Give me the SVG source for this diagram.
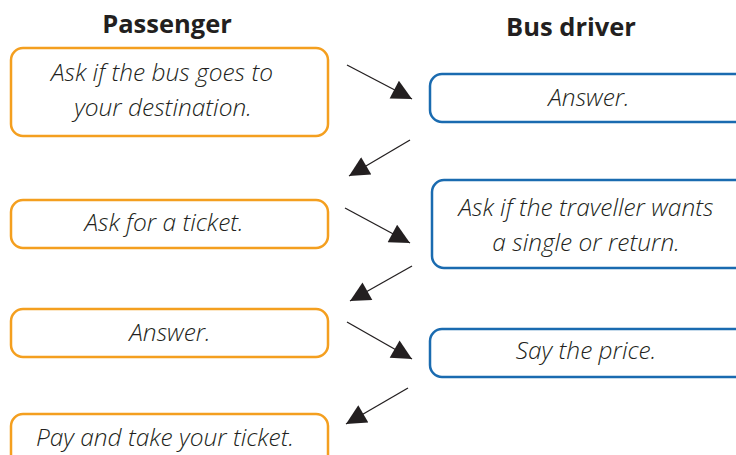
<svg xmlns="http://www.w3.org/2000/svg" width="736" height="455" viewBox="0 0 736 455">
<style>
.p rect{fill:#fff;stroke:#F49F1F;stroke-width:2.5}
.d rect{fill:#fff;stroke:#1A6BB0;stroke-width:2.5}
text{font-family:"Open Sans","Liberation Sans",sans-serif;fill:#231f20}
.t{font-style:italic;font-weight:300;font-size:24.5px;text-anchor:middle}
.h{font-weight:bold;font-size:25.5px;text-anchor:middle}
#conn line{stroke:#231f20;stroke-width:1.3;marker-end:url(#ah)}
</style>
<defs>
<marker id="ah" viewBox="0 0 10 10" refX="10" refY="5" markerWidth="26" markerHeight="20" markerUnits="userSpaceOnUse" orient="auto">
<path d="M0,0L10,5L0,10Z" fill="#231f20"/>
</marker>
</defs>
<rect width="736" height="455" fill="#fff"/>
<text class="h" x="167" y="33">Passenger</text>
<text class="h" x="571" y="36">Bus driver</text>
<g id="p1" class="p"><rect x="11" y="48" width="317" height="88" rx="12"/><text class="t" x="162" y="81">Ask if the bus goes to</text><text class="t" x="163" y="116">your destination.</text></g>
<g id="p2" class="p"><rect x="11" y="200" width="317" height="48" rx="12"/><text class="t" x="164" y="231">Ask for a ticket.</text></g>
<g id="p3" class="p"><rect x="11" y="309" width="317" height="48" rx="12"/><text class="t" x="170" y="341">Answer.</text></g>
<g id="p4" class="p"><rect x="11" y="414" width="317" height="60" rx="12"/><text class="t" x="165" y="446">Pay and take your ticket.</text></g>
<g id="d1" class="d"><rect x="430" y="74" width="330" height="48" rx="12"/><text class="t" x="589" y="106">Answer.</text></g>
<g id="d2" class="d"><rect x="432" y="180" width="328" height="88" rx="12"/><text class="t" x="586" y="216">Ask if the traveller wants</text><text class="t" x="586" y="251">a single or return.</text></g>
<g id="d3" class="d"><rect x="430" y="329" width="330" height="48" rx="12"/><text class="t" x="586" y="359">Say the price.</text></g>
<g id="conn">
<line x1="347" y1="65" x2="412" y2="99"/>
<line x1="410" y1="140" x2="349" y2="176"/>
<line x1="345" y1="208" x2="410" y2="243"/>
<line x1="412" y1="266" x2="350" y2="301"/>
<line x1="347" y1="322" x2="412" y2="359"/>
<line x1="408" y1="388" x2="346" y2="424"/>
</g>
</svg>
